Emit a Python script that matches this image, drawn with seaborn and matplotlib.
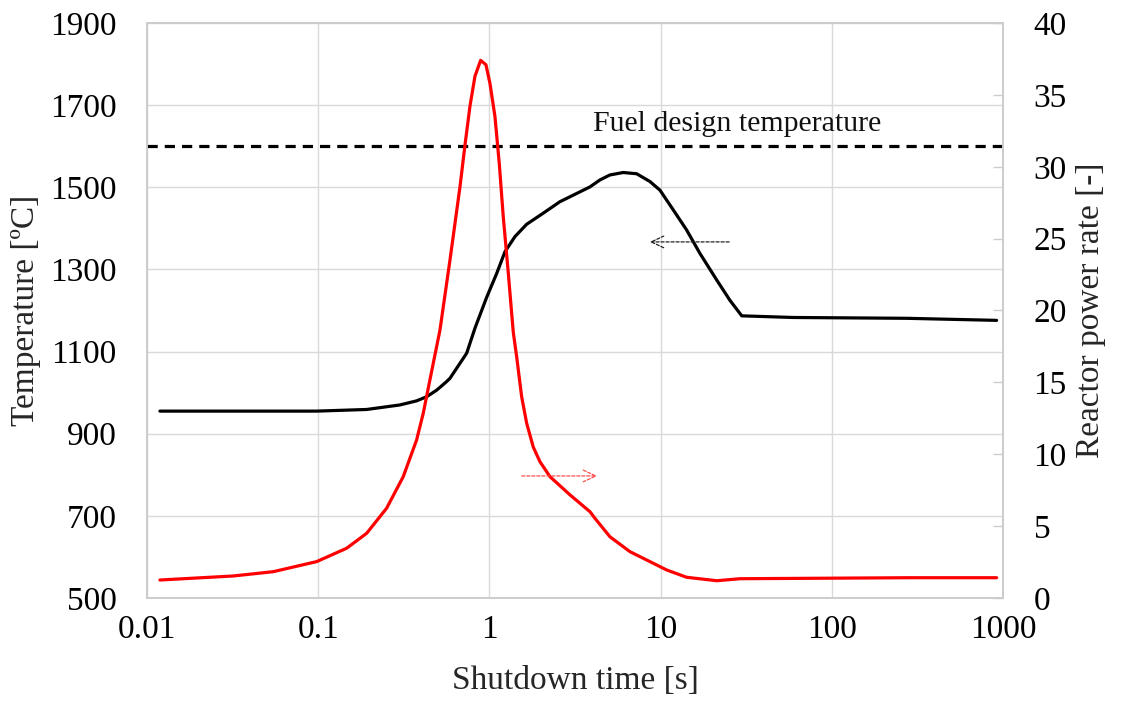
import numpy as np
import pandas as pd
import matplotlib
matplotlib.use("Agg")
import matplotlib.pyplot as plt
import seaborn as sns

# Fuel temperature history after shutdown
temp_time = [0.0119, 0.098, 0.192, 0.300, 0.376, 0.430, 0.492, 0.563, 0.589, 0.737,
             0.824, 0.964, 1.103, 1.233, 1.411, 1.652, 2.064, 2.585, 2.83, 3.87,
             4.43, 5.06, 6.05, 7.25, 8.67, 9.92, 11.86, 14.2, 16.98, 21.3,
             25.4, 29.8, 59.6, 273.8, 918]
temp_value = [955, 955, 959, 970, 980, 990, 1006, 1027, 1035, 1096,
              1157, 1232, 1290, 1343, 1380, 1410, 1437, 1465, 1473, 1501,
              1518, 1530, 1536, 1533, 1514, 1493, 1445, 1396, 1339, 1274,
              1225, 1187, 1183, 1181, 1176]

# Reactor power rate history after shutdown
power_time = [0.0119, 0.0319, 0.0547, 0.098, 0.1467, 0.192, 0.251, 0.314, 0.376, 0.411,
              0.450, 0.5146, 0.5886, 0.6735, 0.7203, 0.770, 0.824, 0.889, 0.955, 1.008,
              1.078, 1.143, 1.206, 1.29, 1.379, 1.443, 1.544, 1.652, 1.805, 1.975,
              2.26, 2.96, 3.87, 4.14, 5.06, 6.63, 8.67, 10.85, 14.2, 21.3,
              29.1, 286, 918]
power_value = [1.25, 1.53, 1.83, 2.53, 3.46, 4.5, 6.24, 8.44, 11.0, 12.85,
               15.2, 18.64, 23.5, 28.6, 31.5, 34.2, 36.3, 37.4, 37.1, 35.8,
               33.5, 30.2, 26.5, 22.6, 18.5, 16.8, 14.0, 12.15, 10.5, 9.48,
               8.44, 7.17, 6.0, 5.54, 4.26, 3.22, 2.53, 1.95, 1.44, 1.2,
               1.34, 1.41, 1.41]

design_limit = 1600
limit_label = "Fuel design temperature"

temp_ticks = [500, 700, 900, 1100, 1300, 1500, 1700, 1900]
power_ticks = [0, 5, 10, 15, 20, 25, 30, 35, 40]
time_ticks = [0.01, 0.1, 1, 10, 100, 1000]
time_ticklabels = ["0.01", "0.1", "1", "10", "100", "1000"]

sns.set_style("white")
plt.rcParams["font.family"] = ["Liberation Serif", "DejaVu Serif"]

fig = plt.figure(figsize=(11.21, 7.04), dpi=100)
ax = fig.add_axes([0.1311, 0.1506, 0.7636, 0.8167])
ax2 = ax.twinx()

temp_df = pd.DataFrame({"time": temp_time, "temp": temp_value})
power_df = pd.DataFrame({"time": power_time, "power": power_value})

ax.set_xscale("log")
sns.lineplot(data=temp_df, x="time", y="temp", ax=ax, color="black",
             linewidth=2.3, zorder=3)
sns.lineplot(data=power_df, x="time", y="power", ax=ax2, color="#ff0000",
             linewidth=2.3, zorder=3)

ax.axhline(design_limit, color="black", linewidth=2.3, linestyle=(0, (3.2, 2.2)), zorder=2)
ax.text(27.9, 1654, limit_label, ha="center", va="center", fontsize=21.5, color="#111111")

# direction arrows
ax.annotate("", xy=(8.33, 1367), xytext=(26.1, 1367),
            arrowprops=dict(arrowstyle="->,head_length=0.6,head_width=0.28",
                            color="#222222", lw=0.9,
                            linestyle=(0, (2.5, 1.5)), mutation_scale=15))
ax2.annotate("", xy=(4.43, 8.49), xytext=(1.49, 8.49),
             arrowprops=dict(arrowstyle="->,head_length=0.6,head_width=0.28",
                             color="#ff4d4d", lw=0.9,
                             linestyle=(0, (2.5, 1.5)), mutation_scale=15))

ax.set_xlim(0.01, 1000)
ax.set_ylim(500, 1900)
ax2.set_ylim(0, 40)
ax.set_xticks(time_ticks)
ax.set_xticklabels(time_ticklabels)
ax.minorticks_off()
ax.set_yticks(temp_ticks)
ax2.set_yticks(power_ticks)

ax.grid(True, which="major", color="#d9d9d9", linewidth=1.0)
ax.set_axisbelow(True)
ax2.grid(False)

for a in (ax, ax2):
    for s in a.spines.values():
        s.set_color("#cccccc")
        s.set_linewidth(1.2)

ax.tick_params(axis="both", which="both", length=0, labelsize=24, colors="black")
ax.tick_params(axis="y", pad=22)
ax.tick_params(axis="x", pad=12)
ax2.tick_params(axis="y", direction="in", length=7, width=1.0, color="#cccccc",
                labelsize=24, pad=22, labelcolor="black")

ax.set_xlabel("Shutdown time [s]", fontsize=24, labelpad=15)
ax.set_ylabel("Temperature [ºC]", fontsize=24, labelpad=6)
ax2.set_ylabel("Reactor power rate [-]", fontsize=24, labelpad=6)

fig.savefig("out.png", dpi=100)
